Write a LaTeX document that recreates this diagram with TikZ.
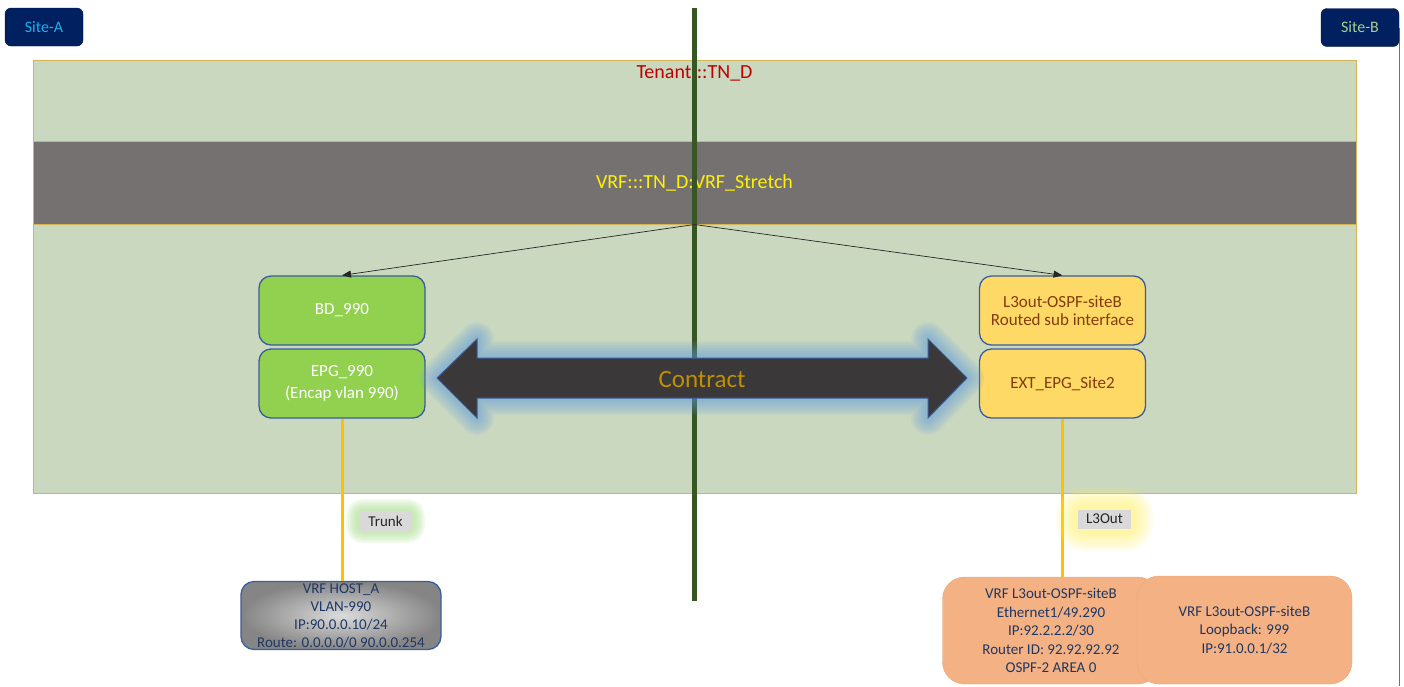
\documentclass[tikz,border=0pt]{standalone}
\usepackage{fontspec}
\setmainfont{Carlito}
\usetikzlibrary{arrows.meta}
\definecolor{navy}{HTML}{002060}
\definecolor{siteAtxt}{HTML}{1FB0EC}
\definecolor{siteBtxt}{HTML}{A9D18E}
\definecolor{tenantfill}{HTML}{CAD8C0}
\definecolor{goldline}{HTML}{D4B455}
\definecolor{vrffill}{HTML}{767171}
\definecolor{tenred}{HTML}{C00000}
\definecolor{divgreen}{HTML}{375623}
\definecolor{boxblue}{HTML}{3A5E9C}
\definecolor{epggreen}{HTML}{92D050}
\definecolor{l3yellow}{HTML}{FFD966}
\definecolor{browntxt}{HTML}{843C0C}
\definecolor{wireyellow}{HTML}{FFC000}
\definecolor{hosttxt}{HTML}{1F3864}
\definecolor{orangefill}{HTML}{F4B183}
\definecolor{glowblue}{HTML}{5C9AE0}
\definecolor{arrowdark}{HTML}{3A3838}
\definecolor{contracttxt}{HTML}{BF9000}
\definecolor{labelgray}{HTML}{D9D9D9}
\definecolor{glowgreen}{HTML}{A8E08A}
\definecolor{glowyellow}{HTML}{FFF35A}
\begin{document}
\begin{tikzpicture}[x=1pt,y=-1pt,
  sitebox/.style={fill=navy, draw=navy!70!black, rounded corners=6pt, minimum width=78pt, minimum height=38pt, inner sep=0pt, font=\fontsize{16}{19}\selectfont},
  aciboxg/.style={draw=boxblue, line width=1.3pt, rounded corners=12pt, minimum width=166pt, minimum height=69pt, align=center, inner sep=2pt, fill=epggreen, text=white, font=\fontsize{17}{22}\selectfont},
  aciboxy/.style={draw=boxblue, line width=1.3pt, rounded corners=12pt, minimum width=166pt, minimum height=69pt, align=center, inner sep=2pt, fill=l3yellow, text=browntxt, font=\fontsize{17}{18.5}\selectfont},
  orangebox/.style={fill=orangefill, draw=orangefill!95!black, rounded corners=22pt, align=center, inner sep=0pt, text=hosttxt, font=\fontsize{15}{18.5}\selectfont},
  tagbox/.style={fill=labelgray, inner sep=0pt, minimum width=53pt, minimum height=19pt, font=\fontsize{15}{18}\selectfont, text=black!85},
  vrfarrow/.style={-{Triangle[length=9pt,width=7pt]}, line width=0.7pt, black!85},
  wire/.style={wireyellow, line width=3pt}
]
\useasboundingbox (0,0) rectangle (1404,686);
\fill[white] (0,0) rectangle (1404,686);

% right edge line and site boxes
\coordinate (edgetop) at (1399.5,28);
\coordinate (edgebot) at (1399.5,686);
\draw[black!55, line width=1pt] (edgetop) -- (edgebot);
\node[sitebox, text=siteAtxt] (siteA) at (44,27) {Site-A};
\node[sitebox, text=siteBtxt] (siteB) at (1360,27.5) {Site-B};

% tenant area
\node[fill=tenantfill, draw=goldline, line width=1pt, minimum width=1323pt, minimum height=433pt, inner sep=0pt] (tenant) at (694.5,276.5) {};
\node[text=tenred, font=\fontsize{20}{24}\selectfont] (tenlabel) at (694.5,73) {Tenant:::TN\_D};

% VRF band
\node[fill=vrffill, draw=goldline, line width=1pt, minimum width=1323pt, minimum height=83pt, inner sep=0pt, text=yellow, font=\fontsize{20}{24}\selectfont] (vrf) at (694.5,182.5) {VRF:::TN\_D:VRF\_Stretch};

% site divider
\coordinate (divtop) at (694.5,8);
\coordinate (divbot) at (694.5,601);
\draw[divgreen, line width=5pt] (divtop) -- (divbot);

% EPG / BD / L3out boxes
\node[aciboxg] (bd) at (342,310.5) {BD\_990};
\node[aciboxg] (epg) at (342,383.5) {EPG\_990\\(Encap vlan 990)};
\node[aciboxy] (l3out) at (1062.5,310.5) {L3out-OSPF-siteB\\Routed sub interface};
\node[aciboxy] (extepg) at (1062.5,383.5) {EXT\_EPG\_Site2};

% VRF arrows
\draw[vrfarrow] (vrf.south) -- (bd.north);
\draw[vrfarrow] (vrf.south) -- (l3out.north);

% Contract double arrow with glow
\def\contractpath{(437,378) -- (477,339) -- (477,358) -- (928,358) -- (928,339) -- (967,378) -- (928,418) -- (928,398) -- (477,398) -- (477,418) -- cycle}
\foreach \w in {34,30,26,22,18,14,10,6}{
  \draw[glowblue, line width=\w pt, opacity=0.085, line join=round] \contractpath;
}
\draw[fill=arrowdark, draw=boxblue, line width=1pt] \contractpath;
\node[text=contracttxt, font=\fontsize{25}{30}\selectfont] (contract) at (702,379) {Contract};

% host and router boxes
\node[draw=boxblue, line width=1.3pt, rounded corners=13pt, minimum width=200pt, minimum height=68pt, inner sep=0pt, inner color=black!14, outer color=black!48, align=center, text=hosttxt, font=\fontsize{15}{18}\selectfont] (host) at (341,615.5) {VRF HOST\_A\\VLAN-990\\IP:90.0.0.10/24\\Route: 0.0.0.0/0 90.0.0.254};
\node[orangebox, minimum width=217pt, minimum height=107pt] (rtr1) at (1051,630.5) {VRF L3out-OSPF-siteB\\Ethernet1/49.290\\IP:92.2.2.2/30\\Router ID: 92.92.92.92\\OSPF-2 AREA 0};
\node[orangebox, minimum width=215pt, minimum height=108pt] (rtr2) at (1244.5,630) {VRF L3out-OSPF-siteB\\Loopback: 999\\IP:91.0.0.1/32};

% wires
\draw[wire] (epg.south) -- (epg.south |- host.north);
\draw[wire] (extepg.south) -- (extepg.south |- rtr1.north);

% tags with glow
\foreach \w in {26,22,18,14,10,6}{
  \draw[glowgreen, line width=\w pt, opacity=0.14, line join=round, rounded corners=4pt] (359,512) rectangle (412,530);
}
\node[tagbox] (trunk) at (385.5,521) {Trunk};
\foreach \w in {44,38,32,26,20,14,8}{
  \draw[glowyellow, line width=\w pt, opacity=0.1, line join=round, rounded corners=6pt] (1078,509) rectangle (1131,529);
}
\node[tagbox] (l3tag) at (1104.5,519) {L3Out};
\end{tikzpicture}
\end{document}
